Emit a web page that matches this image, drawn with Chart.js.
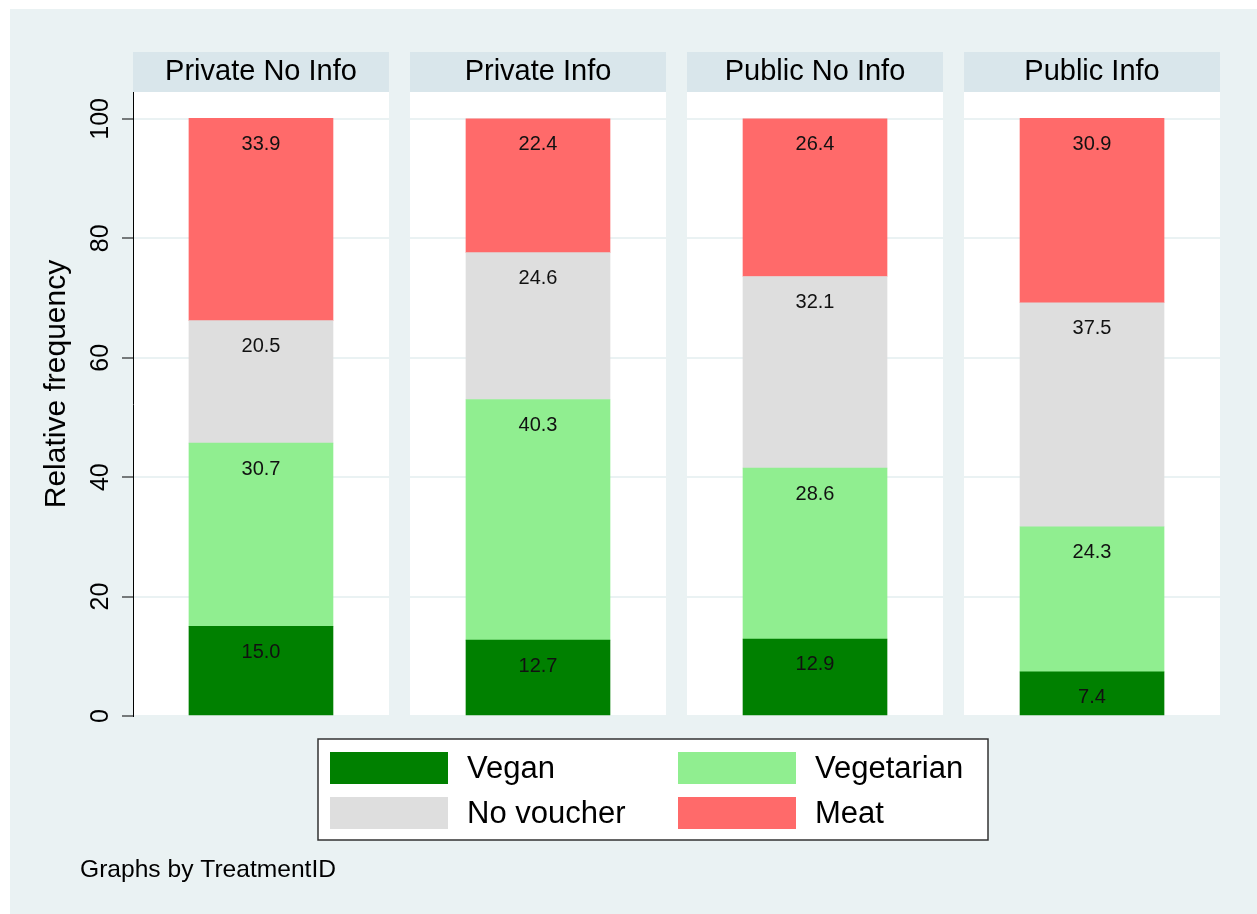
<!DOCTYPE html>
<html lang="en">
<head>
<meta charset="UTF-8">
<title>Relative frequency by TreatmentID</title>
<script src="https://cdn.jsdelivr.net/npm/chart.js"></script>
<style>
  body { margin: 0; background: #fff; }
  canvas { display: block; }
</style>
</head>
<body>
<canvas id="chart" width="1257" height="914"></canvas>
<script>
// one panel per treatment
const treatments = ['Private No Info', 'Private Info', 'Public No Info', 'Public Info'];
// shares in percent, stacked bottom to top
const vegan = [15.0, 12.7, 12.9, 7.4];
const vegetarian = [30.7, 40.3, 28.6, 24.3];
const noVoucher = [20.5, 24.6, 32.1, 37.5];
const meat = [33.9, 22.4, 26.4, 30.9];
const yTicks = [0, 20, 40, 60, 80, 100];

const FONT = "'Liberation Sans', Arial, sans-serif";
const BG = '#eaf2f3';
const HALF = 0.462; // half a panel, in x units

function series(label, values, color) {
    return {
        label: label,
        data: values.map((v, i) => ({ x: i, y: v })),
        backgroundColor: color,
        borderWidth: 0,
        barThickness: 144
    };
}

// background, white plot panels and the grey-blue headers
const facetPanels = {
    id: 'facetPanels',
    beforeDraw(chart) {
        const { ctx, chartArea, scales: { x } } = chart;
        ctx.save();
        ctx.fillStyle = '#fff';
        ctx.fillRect(0, 0, chart.width, chart.height);
        ctx.fillStyle = BG;
        ctx.fillRect(10, 9, chart.width - 10, chart.height - 9);
        treatments.forEach((name, i) => {
            const l = x.getPixelForValue(i - HALF);
            const r = x.getPixelForValue(i + HALF);
            ctx.fillStyle = '#fff';
            ctx.fillRect(l, chartArea.top, r - l, chartArea.bottom - chartArea.top);
            ctx.fillStyle = '#d9e6eb';
            ctx.fillRect(l, chartArea.top - 40, r - l, 40);
            ctx.fillStyle = '#000';
            ctx.font = '29px ' + FONT;
            ctx.textAlign = 'center';
            ctx.textBaseline = 'middle';
            ctx.fillText(name, (l + r) / 2, chartArea.top - 20);
        });
        // y axis title, centred on panels + headers like Stata does
        ctx.translate(57, (chartArea.top - 40 + chartArea.bottom) / 2);
        ctx.rotate(-Math.PI / 2);
        ctx.font = '30px ' + FONT;
        ctx.fillText('Relative frequency', 0, 0);
        ctx.restore();
    }
};

// numbers near the top of every segment
const segmentLabels = {
    id: 'segmentLabels',
    afterDatasetsDraw(chart) {
        const ctx = chart.ctx;
        ctx.save();
        ctx.fillStyle = '#111';
        ctx.font = '20px ' + FONT;
        ctx.textAlign = 'center';
        ctx.textBaseline = 'middle';
        chart.data.datasets.forEach((ds, d) => {
            chart.getDatasetMeta(d).data.forEach((bar, i) => {
                ctx.fillText(ds.data[i].y.toFixed(1), bar.x, bar.y + 26);
            });
        });
        ctx.restore();
    }
};

// boxed 2-column legend + note underneath
const boxLegend = {
    id: 'boxLegend',
    afterDraw(chart) {
        const ctx = chart.ctx;
        ctx.save();
        ctx.fillStyle = '#fff';
        ctx.fillRect(318, 739, 670, 101);
        ctx.strokeStyle = '#333';
        ctx.lineWidth = 1.5;
        ctx.strokeRect(318, 739, 670, 101);
        const colX = [330, 678];
        const rowY = [752, 797];
        ctx.font = '31px ' + FONT;
        ctx.textAlign = 'left';
        ctx.textBaseline = 'middle';
        chart.data.datasets.forEach((ds, d) => {
            const cx = colX[d % 2];
            const cy = rowY[Math.floor(d / 2)];
            ctx.fillStyle = ds.backgroundColor;
            ctx.fillRect(cx, cy, 118, 32);
            ctx.fillStyle = '#000';
            ctx.fillText(ds.label, cx + 137, cy + 17);
        });
        ctx.font = '24.6px ' + FONT;
        ctx.fillText('Graphs by TreatmentID', 80, 870);
        ctx.restore();
    }
};

const ctx = document.getElementById('chart').getContext('2d');
new Chart(ctx, {
    type: 'bar',
    data: {
        datasets: [
            series('Vegan', vegan, '#008000'),
            series('Vegetarian', vegetarian, '#90ee90'),
            series('No voucher', noVoucher, '#dedede'),
            series('Meat', meat, '#ff6a6a')
        ]
    },
    options: {
        responsive: false,
        devicePixelRatio: 1,
        animation: false,
        layout: { padding: { top: 92, right: 37, bottom: 198, left: 0 } },
        plugins: {
            legend: { display: false },
            tooltip: { enabled: false }
        },
        scales: {
            x: {
                type: 'linear',
                stacked: true,
                display: false,
                offset: false,
                min: -HALF,
                max: treatments.length - 1 + HALF
            },
            y: {
                stacked: true,
                min: 0,
                max: 104.5,
                afterBuildTicks: s => { s.ticks = yTicks.map(v => ({ value: v })); },
                afterFit: s => { s.width = 133; },
                grid: { color: BG, lineWidth: 2, tickLength: 11, tickColor: '#000', tickWidth: 1 },
                border: { display: true, color: '#000', width: 1 },
                ticks: {
                    minRotation: 90,
                    maxRotation: 90,
                    crossAlign: 'center',
                    padding: 0,
                    color: '#000',
                    font: { family: FONT, size: 25 }
                }
            }
        }
    },
    plugins: [facetPanels, segmentLabels, boxLegend]
});
</script>
</body>
</html>
